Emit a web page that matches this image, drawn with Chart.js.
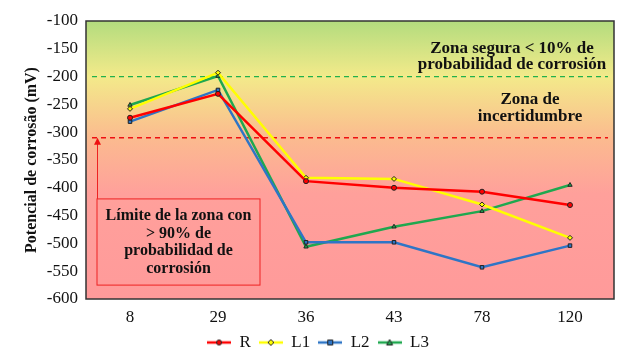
<!DOCTYPE html>
<html>
<head>
<meta charset="utf-8">
<script src="https://cdn.jsdelivr.net/npm/chart.js@4/dist/chart.umd.min.js"></script>
<style>
  html, body { margin: 0; padding: 0; background: #fff; }
  #wrap { width: 629px; height: 352px; }
</style>
</head>
<body>
<div id="wrap"><canvas id="chart"></canvas></div>
<script>
const categories = ['8', '29', '36', '43', '78', '120'];
const seriesR  = [-274, -231, -388, -400, -407, -431];
const seriesL1 = [-258, -193, -382, -384, -430, -490];
const seriesL2 = [-281, -224, -498, -498, -543, -504];
const seriesL3 = [-251, -199, -506, -470, -442, -395];
const yTicks = [-100, -150, -200, -250, -300, -350, -400, -450, -500, -550, -600];
const safeLimit = -200;
const riskLimit = -310;

const serif = '"Liberation Serif", "Times New Roman", serif';

function legendIcon(color, style) {
    const c = document.createElement('canvas');
    c.width = 24; c.height = 10;
    const g = c.getContext('2d');
    g.strokeStyle = color; g.lineWidth = 2.5;
    g.beginPath(); g.moveTo(0, 5); g.lineTo(24, 5); g.stroke();
    g.fillStyle = color; g.strokeStyle = '#222'; g.lineWidth = 1;
    g.beginPath();
    if (style === 'circle') g.arc(12, 5, 2.5, 0, Math.PI * 2);
    else if (style === 'rect') g.rect(9.5, 2.5, 5, 5);
    else if (style === 'rectRot') { g.moveTo(12, 2); g.lineTo(15, 5); g.lineTo(12, 8); g.lineTo(9, 5); g.closePath(); }
    else { g.moveTo(12, 2); g.lineTo(15, 7.5); g.lineTo(9, 7.5); g.closePath(); }
    g.fill(); g.stroke();
    return c;
}

function series(label, data, color, style) {
    return {
        label, data,
        borderColor: color,
        backgroundColor: color,
        borderWidth: 2.5,
        pointStyle: style,
        pointRadius: 2.5,
        pointBorderColor: '#222',
        pointBorderWidth: 1,
        pointBackgroundColor: color,
        tension: 0,
        legendIcon: legendIcon(color, style)
    };
}

const zonesPlugin = {
    id: 'zones',
    beforeDatasetsDraw(chart) {
        const { ctx, chartArea: a, scales: { y } } = chart;
        ctx.save();
        const grad = ctx.createLinearGradient(0, y.getPixelForValue(-100), 0, y.getPixelForValue(-600));
        grad.addColorStop(0, '#b3dc7e');
        grad.addColorStop(0.2, '#f3ea8a');
        grad.addColorStop(0.42, '#fbbb8f');
        grad.addColorStop(0.62, '#ffa09b');
        grad.addColorStop(1, '#ff9a9a');
        ctx.fillStyle = grad;
        ctx.fillRect(a.left, a.top, a.right - a.left, a.bottom - a.top);

        // dashed limit lines
        ctx.setLineDash([5, 4]);
        ctx.lineWidth = 1.3;
        ctx.strokeStyle = '#22b14c';
        let py = y.getPixelForValue(safeLimit);
        ctx.beginPath(); ctx.moveTo(a.left + 6, py); ctx.lineTo(a.right - 6, py); ctx.stroke();
        ctx.strokeStyle = '#ee1111';
        py = y.getPixelForValue(riskLimit);
        ctx.beginPath(); ctx.moveTo(a.left + 6, py); ctx.lineTo(a.right - 6, py); ctx.stroke();
        ctx.setLineDash([]);

        // box and arrow
        const bx = a.left + 11, bw = 163;
        const by = y.getPixelForValue(-420), bb = y.getPixelForValue(-575);
        ctx.strokeStyle = '#ee2222'; ctx.lineWidth = 1;
        ctx.strokeRect(bx, by, bw, bb - by);
        const ay = y.getPixelForValue(riskLimit);
        ctx.beginPath(); ctx.moveTo(bx + 0.5, by); ctx.lineTo(bx + 0.5, ay + 6); ctx.stroke();
        ctx.fillStyle = '#ee1111';
        ctx.beginPath(); ctx.moveTo(bx + 0.5, ay); ctx.lineTo(bx + 4, ay + 7); ctx.lineTo(bx - 3, ay + 7); ctx.closePath(); ctx.fill();

        // texts
        ctx.fillStyle = '#111';
        ctx.font = 'bold 16px ' + serif;
        ctx.textAlign = 'center';
        ctx.textBaseline = 'middle';
        const cx = bx + bw / 2;
        ['Límite de la zona con', '> 90% de', 'probabilidad de', 'corrosión'].forEach((t, i) => {
            ctx.fillText(t, cx, by + 17 + i * 17.7);
        });
        ctx.font = 'bold 17px ' + serif;
        ctx.fillText('Zona segura < 10% de', a.right - 102, y.getPixelForValue(-150));
        ctx.fillText('probabilidad de corrosión', a.right - 102, y.getPixelForValue(-179));
        ctx.fillText('Zona de', a.right - 84, y.getPixelForValue(-241));
        ctx.fillText('incertidumbre', a.right - 84, y.getPixelForValue(-272));

        // plot frame
        ctx.strokeStyle = '#333';
        ctx.lineWidth = 1.5;
        ctx.strokeRect(a.left, a.top, a.right - a.left, a.bottom - a.top);
        ctx.restore();
    }
};

new Chart(document.getElementById('chart'), {
    type: 'line',
    data: {
        labels: categories,
        datasets: [
            series('R', seriesR, '#ff0000', 'circle'),
            series('L1', seriesL1, '#ffff00', 'rectRot'),
            series('L2', seriesL2, '#2e75c6', 'rect'),
            series('L3', seriesL3, '#1fa84f', 'triangle')
        ]
    },
    options: {
        responsive: true,
        maintainAspectRatio: false,
        animation: false,
        layout: { padding: { top: 21, right: 15, left: 22, bottom: -9 } },
        plugins: {
            legend: {
                position: 'bottom',
                labels: {
                    usePointStyle: true,
                    pointStyleWidth: 24,
                    boxHeight: 10,
                    padding: 8,
                    color: '#111',
                    font: { family: serif, size: 17 },
                    generateLabels(chart) {
                        return chart.data.datasets.map((ds, i) => ({
                            text: ds.label,
                            pointStyle: ds.legendIcon,
                            datasetIndex: i,
                            hidden: false,
                            lineWidth: 0,
                            fontColor: '#111'
                        }));
                    }
                }
            },
            tooltip: { enabled: false }
        },
        scales: {
            x: {
                offset: true,
                grid: { display: false, drawTicks: false },
                border: { display: false },
                ticks: { color: '#111', font: { family: serif, size: 17 }, padding: 8 },
                afterFit(scale) { scale.height = 27; }
            },
            y: {
                min: -600,
                max: -100,
                afterBuildTicks(scale) { scale.ticks = yTicks.map(v => ({ value: v })); },
                afterFit(scale) { scale.width = 64; },
                grid: { display: false, drawTicks: false },
                border: { display: false },
                ticks: { color: '#111', font: { family: serif, size: 17 }, padding: 8 },
                title: {
                    display: true,
                    text: 'Potencial de corrosão (mV)',
                    color: '#111',
                    font: { family: serif, size: 16, weight: 'bold' },
                    padding: { top: 0, bottom: 4 }
                }
            }
        }
    },
    plugins: [zonesPlugin]
});
</script>
</body>
</html>
